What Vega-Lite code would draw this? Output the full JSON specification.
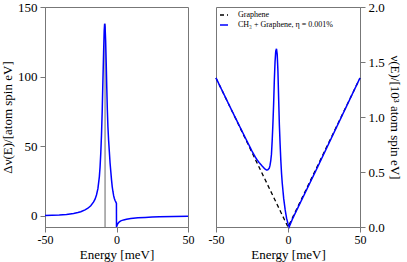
{
  "$schema": "https://vega.github.io/schema/vega-lite/v6.json",
  "padding": {"left": 1, "top": 0, "right": 2, "bottom": 0},
  "background": "white",
  "config": {
    "font": "Liberation Serif",
    "view": {"stroke": "#777", "strokeWidth": 1},
    "axis": {
      "labelFont": "Liberation Serif", "labelFontSize": 13, "labelColor": "black",
      "titleFont": "Liberation Serif", "titleFontSize": 13, "titleFontWeight": "normal", "titleColor": "black",
      "domainColor": "#777", "tickColor": "#777", "grid": false, "labelPadding": 3
    }
  },
  "datasets": {
    "delta": [
      {"E": -50, "v": 0.3}, {"E": -45, "v": 0.4}, {"E": -40, "v": 0.6}, {"E": -35, "v": 1.0},
      {"E": -30, "v": 1.7}, {"E": -27, "v": 2.4}, {"E": -25, "v": 3.0}, {"E": -22, "v": 4.3},
      {"E": -20, "v": 5.5}, {"E": -18, "v": 7.3}, {"E": -16, "v": 10.0}, {"E": -15, "v": 12},
      {"E": -14, "v": 15}, {"E": -13, "v": 19.5}, {"E": -12, "v": 28}, {"E": -11.5, "v": 35},
      {"E": -11, "v": 45}, {"E": -10.5, "v": 58}, {"E": -10, "v": 75}, {"E": -9.5, "v": 97},
      {"E": -9, "v": 118}, {"E": -8.6, "v": 133}, {"E": -8.3, "v": 138}, {"E": -8.0, "v": 136},
      {"E": -7.6, "v": 126}, {"E": -7.2, "v": 110}, {"E": -6.8, "v": 92}, {"E": -6.4, "v": 76},
      {"E": -6, "v": 64}, {"E": -5.5, "v": 54}, {"E": -5, "v": 46}, {"E": -4.5, "v": 38},
      {"E": -4, "v": 32}, {"E": -3.5, "v": 26}, {"E": -3, "v": 21}, {"E": -2.5, "v": 17.5},
      {"E": -2, "v": 14.5}, {"E": -1.5, "v": 12.5}, {"E": -1, "v": 11}, {"E": -0.5, "v": 10},
      {"E": -0.05, "v": 9}, {"E": 0, "v": -8}, {"E": 0.5, "v": -6.5}, {"E": 1, "v": -5.5},
      {"E": 2, "v": -4.3}, {"E": 3, "v": -3.6}, {"E": 5, "v": -2.9}, {"E": 7, "v": -2.4},
      {"E": 10, "v": -1.9}, {"E": 15, "v": -1.4}, {"E": 20, "v": -1.1}, {"E": 25, "v": -0.9},
      {"E": 30, "v": -0.7}, {"E": 40, "v": -0.5}, {"E": 50, "v": -0.35}
    ],
    "drop": [{"E": -8, "lo": -8, "hi": 138}],
    "graphene": [
      {"E": -50, "v": 1.355, "s": "Graphene"}, {"E": 0, "v": 0, "s": "Graphene"}, {"E": 50, "v": 1.355, "s": "Graphene"}
    ],
    "ch3": [
      {"E": -50, "v": 1.355}, {"E": -40, "v": 1.085}, {"E": -30, "v": 0.82}, {"E": -25, "v": 0.69},
      {"E": -22, "v": 0.62}, {"E": -20, "v": 0.585}, {"E": -18, "v": 0.555}, {"E": -16, "v": 0.527},
      {"E": -15, "v": 0.518}, {"E": -14, "v": 0.52}, {"E": -13, "v": 0.535}, {"E": -12.5, "v": 0.56},
      {"E": -12, "v": 0.6}, {"E": -11.5, "v": 0.66}, {"E": -11, "v": 0.78}, {"E": -10.5, "v": 0.93},
      {"E": -10, "v": 1.11}, {"E": -9.5, "v": 1.33}, {"E": -9, "v": 1.5}, {"E": -8.5, "v": 1.6},
      {"E": -8.0, "v": 1.62}, {"E": -7.5, "v": 1.57}, {"E": -7, "v": 1.42}, {"E": -6.5, "v": 1.17},
      {"E": -6, "v": 0.93}, {"E": -5.5, "v": 0.76}, {"E": -5, "v": 0.61}, {"E": -4.5, "v": 0.49},
      {"E": -4, "v": 0.4}, {"E": -3, "v": 0.26}, {"E": -2, "v": 0.16}, {"E": -1, "v": 0.08},
      {"E": 0, "v": 0.03}, {"E": 0.8, "v": 0}, {"E": 3, "v": 0.07}, {"E": 5, "v": 0.125},
      {"E": 10, "v": 0.26}, {"E": 20, "v": 0.53}, {"E": 30, "v": 0.805}, {"E": 40, "v": 1.08},
      {"E": 50, "v": 1.355}
    ]
  },
  "resolve": {"scale": {"color": "independent", "strokeDash": "independent"}},
  "spacing": 28,
  "bounds": "flush",
  "hconcat": [
    {
      "width": 143, "height": 220,
      "layer": [
        {"mark": {"type": "rule", "color": "#888", "strokeWidth": 1}, "encoding": {"y": {"datum": 0, "type": "quantitative"}}},
        {
          "data": {"name": "drop"},
          "mark": {"type": "rule", "color": "#999", "strokeWidth": 1.5},
          "encoding": {
            "x": {"field": "E", "type": "quantitative"},
            "y": {"field": "lo", "type": "quantitative"},
            "y2": {"field": "hi"}
          }
        },
        {
          "data": {"name": "delta"},
          "mark": {"type": "line", "color": "#0000ff", "strokeWidth": 1.5, "clip": true},
          "encoding": {
            "x": {"field": "E", "type": "quantitative", "scale": {"domain": [-50, 50], "nice": false, "zero": false},
              "axis": {"title": "Energy [meV]", "values": [-50, -37.5, -25, -12.5, 0, 12.5, 25, 37.5, 50],
                "labelFont": "Liberation Serif", "labelFontSize": 12, "labelPadding": 2,
                "labelExpr": "datum.value % 25 === 0 ? replace(datum.label, '−', '-') : ''",
                "tickSize": {"condition": {"test": "datum.value % 25 === 0", "value": 5}, "value": 3},
                "titlePadding": 3, "labelFlush": false}},
            "y": {"field": "v", "type": "quantitative", "scale": {"domain": [-8, 150], "nice": false, "zero": false},
              "axis": {"title": "Δν(E)/[atom spin eV]", "values": [0, 25, 50, 75, 100, 125, 150],
                "labelFont": "Liberation Serif", "labelFontSize": 13,
                "labelExpr": "datum.value % 50 === 0 ? datum.label : ''",
                "tickSize": {"condition": {"test": "datum.value % 50 === 0", "value": 5}, "value": 3},
                "titlePadding": 3, "labelFlush": false}}
          }
        }
      ]
    },
    {
      "width": 144, "height": 220,
      "layer": [
        {
          "data": {"name": "graphene"},
          "mark": {"type": "line", "strokeWidth": 1.3},
          "encoding": {
            "x": {"field": "E", "type": "quantitative", "scale": {"domain": [-50, 50], "nice": false, "zero": false},
              "axis": {"title": "Energy [meV]", "values": [-50, -37.5, -25, -12.5, 0, 12.5, 25, 37.5, 50],
                "labelFont": "Liberation Serif", "labelFontSize": 12, "labelPadding": 2,
                "labelExpr": "datum.value % 25 === 0 ? replace(datum.label, '−', '-') : ''",
                "tickSize": {"condition": {"test": "datum.value % 25 === 0", "value": 5}, "value": 3},
                "titlePadding": 3, "labelFlush": false}},
            "y": {"field": "v", "type": "quantitative", "scale": {"domain": [0, 2], "nice": false, "zero": false},
              "axis": {"orient": "right", "title": "ν(E)/[10³ atom spin eV]", "values": [0, 0.25, 0.5, 0.75, 1, 1.25, 1.5, 1.75, 2],
                "labelFont": "Liberation Serif", "labelFontSize": 13,
                "labelExpr": "datum.value % 0.5 === 0 ? format(datum.value, '.1f') : ''",
                "tickSize": {"condition": {"test": "datum.value % 0.5 === 0", "value": 5}, "value": 3},
                "titlePadding": 3, "labelFlush": false}},
            "color": {"field": "s", "type": "nominal",
              "scale": {"domain": ["Graphene", "CH₃ + Graphene, η = 0.001%"], "range": ["black", "#0000ff"]},
              "legend": {"title": null, "orient": "top-left", "offset": 3, "padding": 0,
                "labelFont": "Liberation Serif", "labelFontSize": 8, "labelColor": "black",
                "symbolType": "stroke", "symbolSize": 64, "symbolStrokeWidth": 1.3, "rowPadding": 1, "labelOffset": 9}},
            "strokeDash": {"field": "s", "type": "nominal",
              "scale": {"domain": ["Graphene", "CH₃ + Graphene, η = 0.001%"], "range": [[4, 3], [1, 0]]},
              "legend": {"title": null, "orient": "top-left", "offset": 3, "padding": 0,
                "labelFont": "Liberation Serif", "labelFontSize": 8, "labelColor": "black",
                "symbolType": "stroke", "symbolSize": 64, "symbolStrokeWidth": 1.3, "rowPadding": 1, "labelOffset": 9}}
          }
        },
        {
          "data": {"name": "ch3"},
          "transform": [{"calculate": "'CH₃ + Graphene, η = 0.001%'", "as": "s"}],
          "mark": {"type": "line", "strokeWidth": 1.5},
          "encoding": {
            "x": {"field": "E", "type": "quantitative"},
            "y": {"field": "v", "type": "quantitative"},
            "color": {"field": "s", "type": "nominal"},
            "strokeDash": {"field": "s", "type": "nominal"}
          }
        }
      ]
    }
  ]
}
